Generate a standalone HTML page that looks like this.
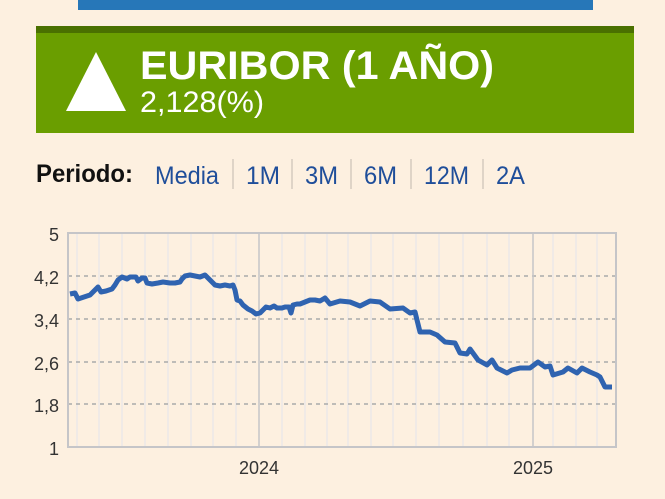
<!DOCTYPE html>
<html><head><meta charset="utf-8"><style>
html,body{margin:0;padding:0;width:665px;height:499px;overflow:hidden;background:#fdf0e0;font-family:"Liberation Sans",Arial,sans-serif}
.abs{position:absolute}
</style></head><body>
<div class="abs" style="left:78px;top:0;width:515px;height:10px;background:#2777b8"></div>
<div class="abs" style="left:36px;top:26px;width:598px;height:107px;background:#6a9e00"></div>
<div class="abs" style="left:36px;top:26px;width:598px;height:7px;background:#4a7000"></div>
<svg class="abs" style="left:0;top:0" width="665" height="499">
<polygon points="66,111 96,52 126,111" fill="#fff"/>
<text x="140" y="79" font-size="40" font-weight="bold" fill="#fff" font-family="Liberation Sans, sans-serif" textLength="354" lengthAdjust="spacingAndGlyphs">EURIBOR (1 AÑO)</text>
<text x="140" y="112" font-size="30" fill="#fff" font-family="Liberation Sans, sans-serif" textLength="124" lengthAdjust="spacingAndGlyphs">2,128(%)</text>
<text x="36" y="182" font-size="25" font-weight="bold" fill="#111" font-family="Liberation Sans, sans-serif" textLength="97" lengthAdjust="spacingAndGlyphs">Periodo:</text>
<g font-size="25" fill="#1f4e9a" font-family="Liberation Sans, sans-serif">
<text x="155" y="184" textLength="64" lengthAdjust="spacingAndGlyphs">Media</text><text x="246" y="184" textLength="34" lengthAdjust="spacingAndGlyphs">1M</text><text x="305" y="184" textLength="33" lengthAdjust="spacingAndGlyphs">3M</text><text x="364" y="184" textLength="33" lengthAdjust="spacingAndGlyphs">6M</text><text x="424" y="184" textLength="45" lengthAdjust="spacingAndGlyphs">12M</text><text x="496" y="184" textLength="29" lengthAdjust="spacingAndGlyphs">2A</text>
</g>
<g stroke="#d5cbbf" stroke-width="1.5">
<line x1="233" y1="159" x2="233" y2="189"/><line x1="292" y1="159" x2="292" y2="189"/><line x1="351" y1="159" x2="351" y2="189"/><line x1="411" y1="159" x2="411" y2="189"/><line x1="483" y1="159" x2="483" y2="189"/>
</g>
<g stroke="#e7e6ea" stroke-width="1.2">
<line x1="77" y1="233" x2="77" y2="447"/><line x1="99" y1="233" x2="99" y2="447"/><line x1="122" y1="233" x2="122" y2="447"/><line x1="145" y1="233" x2="145" y2="447"/><line x1="168" y1="233" x2="168" y2="447"/><line x1="191" y1="233" x2="191" y2="447"/><line x1="213" y1="233" x2="213" y2="447"/><line x1="236" y1="233" x2="236" y2="447"/>
<line x1="282" y1="233" x2="282" y2="447"/><line x1="305" y1="233" x2="305" y2="447"/><line x1="327" y1="233" x2="327" y2="447"/><line x1="348" y1="233" x2="348" y2="447"/><line x1="371" y1="233" x2="371" y2="447"/><line x1="393" y1="233" x2="393" y2="447"/><line x1="416" y1="233" x2="416" y2="447"/><line x1="439" y1="233" x2="439" y2="447"/><line x1="463" y1="233" x2="463" y2="447"/><line x1="487" y1="233" x2="487" y2="447"/><line x1="509" y1="233" x2="509" y2="447"/><line x1="553" y1="233" x2="553" y2="447"/><line x1="576" y1="233" x2="576" y2="447"/><line x1="597" y1="233" x2="597" y2="447"/>
</g>
<g stroke="#aaa" stroke-width="1.5" stroke-dasharray="4,4">
<line x1="68" y1="276" x2="616" y2="276"/><line x1="68" y1="319" x2="616" y2="319"/><line x1="68" y1="362" x2="616" y2="362"/><line x1="68" y1="404" x2="616" y2="404"/>
</g>
<g stroke="#c5c5c8" stroke-width="1.5">
<line x1="259" y1="233" x2="259" y2="447"/><line x1="533" y1="233" x2="533" y2="447"/>
</g>
<rect x="68" y="233" width="548" height="214" fill="none" stroke="#c5c5c8" stroke-width="2"/>
<polyline fill="none" stroke="#2f63b0" stroke-width="5" stroke-linejoin="round" points="70,294 75,293 78,299 84,297 90,295 95,290 98,287 101,292 106,291 112,289 115,285 118,280 122,277 127,279 130,277 136,277 138,281 142,278 145,278 147,283 152,284 158,283 163,282 170,283 175,283 180,282 182,279 185,276 190,275 195,276 200,277 205,275 210,280 215,285 220,286 225,285 230,286 233,285 235,290 237,300 240,301 243,305 248,309 252,311 256,314 260,313 263,310 266,307 270,308 274,306 277,308 282,308 285,307 289,307 291,313 293,305 297,304 300,304 305,302 310,300 315,300 320,301 325,298 330,304 340,301 350,302 360,306 370,301 380,302 390,309 403,308 410,313 415,312 420,332 430,332 437,335 445,342 455,343 460,353 467,354 470,349 478,360 487,365 492,360 497,368 507,373 512,370 520,368 530,368 538,362 545,367 550,366 553,375 563,372 568,368 577,373 582,368 590,372 597,375 600,377 605,387 612,387"/>
<g font-size="18" fill="#333" text-anchor="end" font-family="Liberation Sans, sans-serif">
<text x="59" y="241">5</text><text x="59" y="284">4,2</text><text x="59" y="327">3,4</text><text x="59" y="370">2,6</text><text x="59" y="412">1,8</text><text x="59" y="455">1</text>
</g>
<g font-size="18" fill="#333" text-anchor="middle" font-family="Liberation Sans, sans-serif">
<text x="259" y="474">2024</text><text x="533" y="474">2025</text>
</g>
</svg>
</body></html>
